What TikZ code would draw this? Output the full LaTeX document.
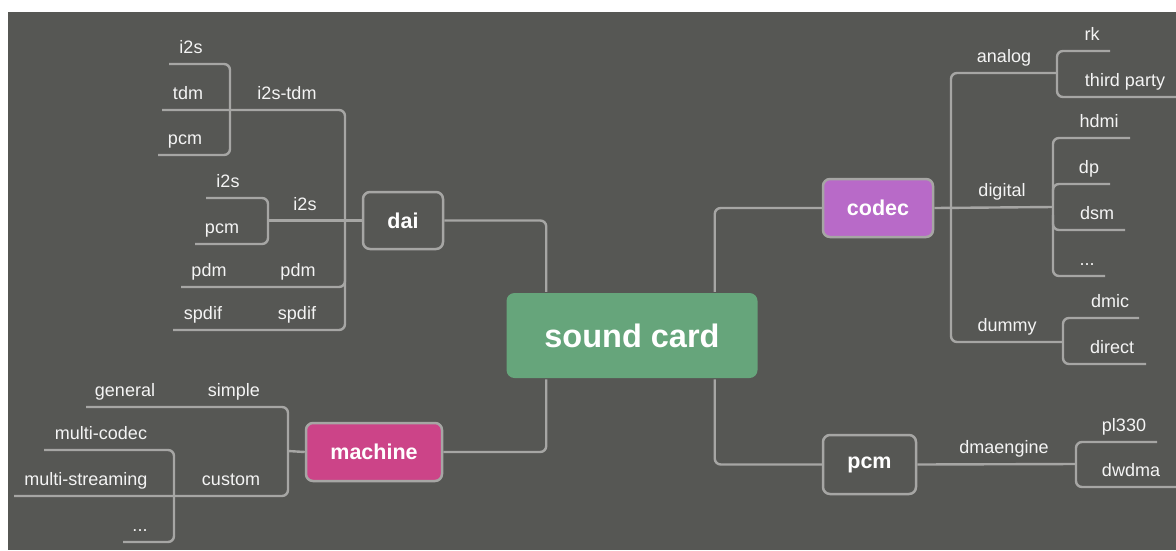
\documentclass[tikz,border=0pt]{standalone}
\usepackage{fontspec}
\setmainfont{Liberation Sans}
\definecolor{bgc}{HTML}{565754}
\definecolor{linec}{HTML}{A6A6A4}
\definecolor{txtc}{HTML}{F4F4F4}
\definecolor{greenc}{HTML}{66A57B}
\definecolor{magc}{HTML}{CC4488}
\definecolor{purc}{HTML}{B86AC8}
\begin{document}
\begin{tikzpicture}[x=1pt,y={(0,-1pt)},
  conn/.style={draw=linec, line width=2.4pt, rounded corners=6pt},
  lbl/.style={text=txtc, font=\fontsize{18}{21}\selectfont, anchor=base, inner sep=0pt},
  box/.style={draw=linec, line width=2.5pt, rounded corners=7pt, fill=bgc, text=white,
    font=\bfseries\fontsize{21.5}{24}\selectfont, inner sep=0pt}]
\useasboundingbox (0,0) rectangle (1176,550);
\fill[white] (0,0) rectangle (1176,550);
\fill[bgc] (8,12) rectangle (1176,550);

% main boxes
\node[box, draw=none, fill=greenc, rounded corners=8pt, minimum width=251pt, minimum height=85pt,
  font=\bfseries\fontsize{32.5}{36}\selectfont] (sc) at (632,335.5) {sound card};
\node[box, minimum width=80pt, minimum height=57pt] (dai) at (403,220.5) {dai};
\node[box, fill=magc, minimum width=136pt, minimum height=58pt] (machine) at (374,452) {machine};
\node[box, fill=purc, minimum width=110pt, minimum height=58pt] (codec) at (878,208) {codec};
\node[box, minimum width=93pt, minimum height=59pt] (pcm) at (869.5,464.5) {pcm};

% connectors from sound card
\draw[conn] (dai.east) -| ([xshift=41pt]sc.north west);
\draw[conn] (codec.west) -| ([xshift=-44pt]sc.north east);
\draw[conn] (machine.east) -| ([xshift=41pt]sc.south west);
\draw[conn] (pcm.west) -| ([xshift=-44pt]sc.south east);

% ---------- dai subtree ----------
\draw[conn] (162,110) -- (345,110) -- (345,330) -- (173,330);
\draw[conn] (181,287) -- (345,287) -- (345,260);
\draw[conn] (dai.west) -- (268,220.5);
\draw[conn] (169,64) -- (230,64) -- (230,155) -- (158,155);
\draw[conn] (206,198) -- (268,198) -- (268,244) -- (195,244);

\node[lbl] (t-i2s1) at (191,53) {i2s};
\node[lbl] (t-tdm) at (188,99) {tdm};
\node[lbl] (t-pcm1) at (185,144) {pcm};
\node[lbl] (t-i2stdm) at (287,99) {i2s-tdm};
\node[lbl] (t-i2s2) at (228,187) {i2s};
\node[lbl] (t-pcm2) at (222,233) {pcm};
\node[lbl] (t-i2s3) at (305,210) {i2s};
\node[lbl] (t-pdm1) at (209,276) {pdm};
\node[lbl] (t-pdm2) at (298,276) {pdm};
\node[lbl] (t-spdif1) at (203,319) {spdif};
\node[lbl] (t-spdif2) at (297,319) {spdif};

% ---------- machine subtree ----------
\draw[conn] (machine.west) -- (288,451);
\draw[conn] (86,407) -- (288,407) -- (288,496) -- (14,496);
\draw[conn] (44,450) -- (174,450) -- (174,542) -- (123,542);

\node[lbl] (t-general) at (125,396) {general};
\node[lbl] (t-simple) at (234,396) {simple};
\node[lbl] (t-mcodec) at (101,439) {multi-codec};
\node[lbl] (t-mstream) at (86,485) {multi-streaming};
\node[lbl] (t-custom) at (231,485) {custom};
\node[lbl] (t-dots1) at (140,531) {...};

% ---------- codec subtree ----------
\draw[conn] (codec.east) -- (1053,207);
\draw[conn] (1057,73) -- (951,73) -- (951,342) -- (1063,342);
\draw[conn] (1110,51) -- (1057,51) -- (1057,97) -- (1176,97);
\draw[conn] (1130,138) -- (1053,138) -- (1053,276) -- (1105,276);
\draw[conn] (1053,200) -- (1053,184) -- (1110,184);
\draw[conn] (1053,215) -- (1053,230) -- (1125,230);
\draw[conn] (1139,318) -- (1063,318) -- (1063,364) -- (1146,364);

\node[lbl] (t-analog) at (1004,62) {analog};
\node[lbl] (t-rk) at (1092,40) {rk};
\node[lbl] (t-third) at (1125,86) {third party};
\node[lbl] (t-hdmi) at (1099,127) {hdmi};
\node[lbl] (t-dp) at (1089,173) {dp};
\node[lbl] (t-digital) at (1002,196) {digital};
\node[lbl] (t-dsm) at (1097,219) {dsm};
\node[lbl] (t-dots2) at (1087,265) {...};
\node[lbl] (t-dmic) at (1110,307) {dmic};
\node[lbl] (t-dummy) at (1007,331) {dummy};
\node[lbl] (t-direct) at (1112,353) {direct};

% ---------- pcm subtree ----------
\draw[conn] (pcm.east) -- (1076,464);
\draw[conn] (1157,442) -- (1076,442) -- (1076,487) -- (1176,487);

\node[lbl] (t-dma) at (1004,453) {dmaengine};
\node[lbl] (t-pl330) at (1124,431) {pl330};
\node[lbl] (t-dwdma) at (1131,476) {dwdma};
\end{tikzpicture}
\end{document}
